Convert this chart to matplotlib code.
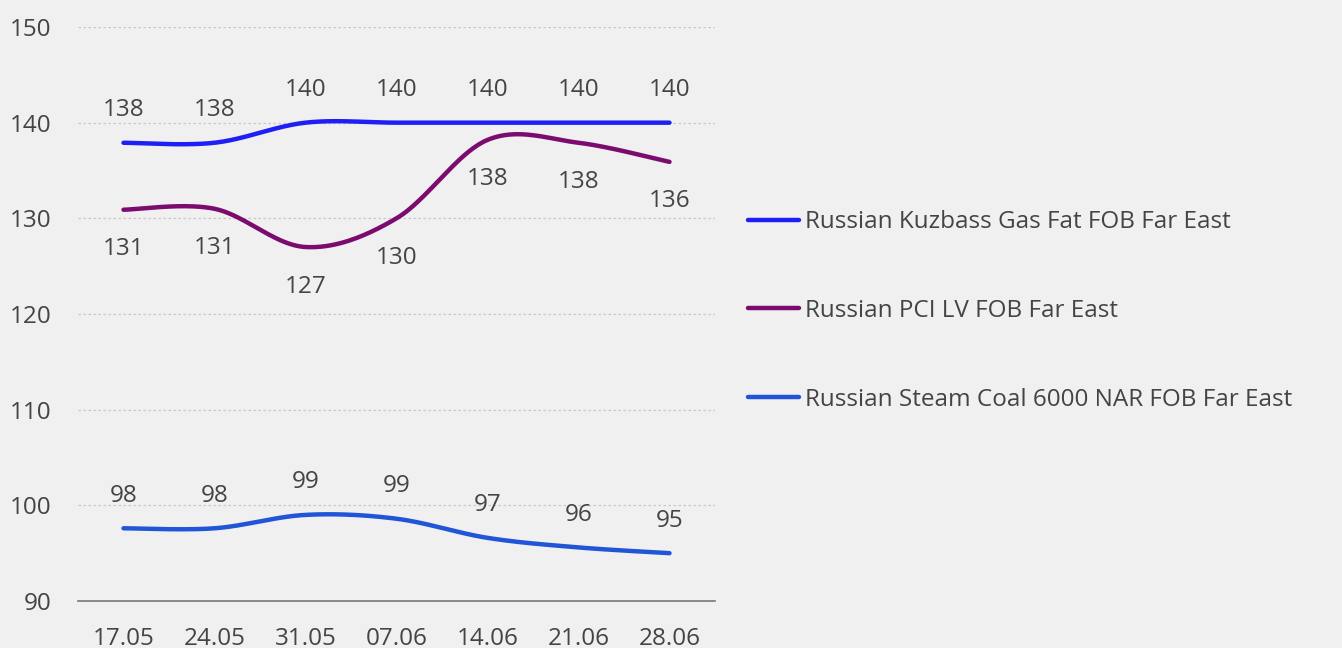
"""Russian coal prices, FOB Far East, weekly — smoothed line chart."""

import numpy as np
import matplotlib

matplotlib.use("Agg")
import matplotlib.pyplot as plt

weeks = ["17.05", "24.05", "31.05", "07.06", "14.06", "21.06", "28.06"]
kuzbass_gas_fat = [137.9, 137.9, 140.0, 140.0, 140.0, 140.0, 140.0]
pci_lv = [130.9, 131.0, 127.0, 130.0, 138.2, 137.9, 135.9]
steam_6000 = [97.6, 97.6, 99.0, 98.6, 96.6, 95.6, 95.0]

series = [
    ("Russian Kuzbass Gas Fat FOB Far East", kuzbass_gas_fat, "#1f1ff5", "above"),
    ("Russian PCI LV FOB Far East", pci_lv, "#7b0b6e", "below"),
    ("Russian Steam Coal 6000 NAR FOB Far East", steam_6000, "#2155d8", "above"),
]

BG = "#f0f0f0"
TXT = "#444444"
FONT = "Open Sans"
FS = 17.5


def catmull_rom(x, y, steps=40):
    # Excel-style smoothed line: uniform Catmull-Rom through every point.
    p = np.column_stack([x, y]).astype(float)
    p = np.vstack([p[0], p, p[-1]])
    out = []
    t = np.linspace(0, 1, steps)[:, None]
    for i in range(1, len(p) - 2):
        p0, p1, p2, p3 = p[i - 1], p[i], p[i + 1], p[i + 2]
        seg = 0.5 * (
            2 * p1
            + (-p0 + p2) * t
            + (2 * p0 - 5 * p1 + 4 * p2 - p3) * t**2
            + (-p0 + 3 * p1 - 3 * p2 + p3) * t**3
        )
        out.append(seg if i == 1 else seg[1:])
    c = np.vstack(out)
    return c[:, 0], c[:, 1]


plt.rcParams["font.family"] = [FONT, "DejaVu Sans"]
fig = plt.figure(figsize=(13.42, 6.48), dpi=100, facecolor=BG)
ax = fig.add_axes([78 / 1342, 47 / 648, 637 / 1342, 574 / 648], facecolor=BG)

x = np.arange(len(weeks))
for name, vals, color, where in series:
    sx, sy = catmull_rom(x, vals)
    ax.plot(sx, sy, color=color, lw=3.2, solid_capstyle="round", label=name)
    for xi, v in zip(x, vals):
        label = str(int(v + 0.5))
        dy = 23.5 if where == "above" else -28.5
        ax.annotate(label, (xi, v), xytext=(0, dy), textcoords="offset points",
                    ha="center", va="center", fontsize=FS, color=TXT)

ax.set_xlim(-0.5, len(weeks) - 0.5)
ax.set_ylim(90, 150)
ax.set_yticks(range(90, 151, 10))
ax.set_xticks(x)
ax.set_xticklabels(weeks)
ax.tick_params(axis="both", length=0, labelsize=FS, labelcolor=TXT)
ax.tick_params(axis="y", pad=19)
ax.tick_params(axis="x", pad=19)
ax.grid(axis="y", color="#c8c8c8", linestyle=(0, (2, 2)), lw=0.9)
for s in ["top", "right", "left"]:
    ax.spines[s].set_visible(False)
ax.spines["bottom"].set_color("#777777")
ax.spines["bottom"].set_linewidth(1.2)
ax.set_axisbelow(True)

leg = ax.legend(
    loc="center left",
    bbox_to_anchor=(748 / 1342, 1 - 311 / 648),
    bbox_transform=fig.transFigure,
    frameon=False,
    fontsize=FS,
    labelcolor=TXT,
    handlelength=2.1,
    handletextpad=0.25,
    labelspacing=2.66,
    borderpad=0,
    borderaxespad=0,
)

fig.savefig("out.png", dpi=100, facecolor=BG)
